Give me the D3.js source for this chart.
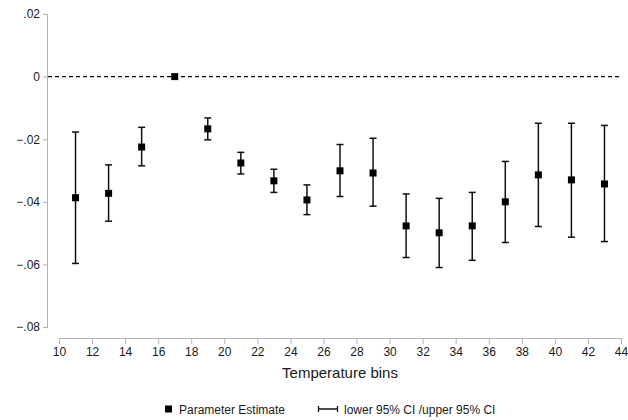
<!DOCTYPE html>
<html lang="en">
<head>
    <meta charset="UTF-8">
    <title>Temperature bins</title>
    <style>
        body { margin: 0; background: #fff; }
        text { font-family: 'Liberation Sans', Arial, sans-serif; fill: #1a1a1a; }
        .axis path, .axis line { stroke: #b4b4b4; }
    </style>
</head>
<body>
<script src="https://d3js.org/d3.v7.min.js"></script>
<script>

    const bins = [11, 13, 15, 17, 19, 21, 23, 25, 27, 29, 31, 33, 35, 37, 39, 41, 43];
    const estimate = [-0.0387, -0.0373, -0.0225, 0, -0.0167, -0.0276, -0.0333, -0.0394, -0.0301, -0.0308,
        -0.0477, -0.0499, -0.0477, -0.0400, -0.0314, -0.0330, -0.0343];
    const lower = [-0.0597, -0.0462, -0.0285, null, -0.0202, -0.0311, -0.0370, -0.0441, -0.0383, -0.0414,
        -0.0578, -0.0610, -0.0587, -0.0530, -0.0479, -0.0513, -0.0527];
    const upper = [-0.0177, -0.0282, -0.0162, null, -0.0132, -0.0242, -0.0296, -0.0346, -0.0217, -0.0197,
        -0.0375, -0.0389, -0.0370, -0.0271, -0.0149, -0.0149, -0.0156];
    const xTicks = d3.range(10, 45, 2);
    const yTicks = [0.02, 0, -0.02, -0.04, -0.06, -0.08];

    const width = 628, height = 420;

    let svg = d3.select('body').append('svg')
        .attr('width', width)
        .attr('height', height);

    let x = d3.scaleLinear().domain([10, 44]).range([59, 621]);
    let y = d3.scaleLinear().domain([-0.08, 0.02]).range([327, 14]);

    function fmt(d) {
        if (d === 0) return '0';
        let s = Math.abs(d).toFixed(2).replace(/^0/, '');
        return (d < 0 ? '\u2212' : '') + s;
    }

    // y axis
    let yAxis = svg.append('g')
        .attr('class', 'axis')
        .attr('transform', 'translate(48,0)')
        .call(d3.axisLeft(y).tickValues(yTicks).tickFormat(fmt).tickSize(5).tickSizeOuter(0).tickPadding(3));
    yAxis.selectAll('text').style('font-size', '12px');

    // x axis
    let xAxis = svg.append('g')
        .attr('class', 'axis')
        .attr('transform', 'translate(0,338)')
        .call(d3.axisBottom(x).tickValues(xTicks).tickSize(6).tickSizeOuter(0).tickPadding(3));
    xAxis.selectAll('text').style('font-size', '12px');
    xAxis.select('.domain').attr('d', 'M' + x(10) + ',0.5H' + x(44));
    yAxis.select('.domain').attr('d', 'M-0.5,' + y(0.02) + 'V' + y(-0.08));

    svg.append('text')
        .attr('x', (x(10) + x(44)) / 2)
        .attr('y', 378)
        .attr('text-anchor', 'middle')
        .style('font-size', '15px')
        .text('Temperature bins');

    // reference line at zero
    svg.append('line')
        .attr('x1', 48).attr('x2', x(44))
        .attr('y1', y(0)).attr('y2', y(0))
        .style('stroke', '#000')
        .style('stroke-width', 1.2)
        .style('stroke-dasharray', '4,3');

    let rows = bins.map(function(b, i) {
        return {bin: b, est: estimate[i], lo: lower[i], hi: upper[i]};
    });
    let ci = rows.filter(function(d) { return d.lo !== null; });

    // confidence intervals
    let bars = svg.append('g').selectAll('g')
        .data(ci)
        .enter().append('g')
        .style('stroke', '#111')
        .style('stroke-width', 1.5);

    bars.append('line')
        .attr('x1', function(d) { return x(d.bin); })
        .attr('x2', function(d) { return x(d.bin); })
        .attr('y1', function(d) { return y(d.lo); })
        .attr('y2', function(d) { return y(d.hi); });
    bars.append('line')
        .attr('x1', function(d) { return x(d.bin) - 3.5; })
        .attr('x2', function(d) { return x(d.bin) + 3.5; })
        .attr('y1', function(d) { return y(d.lo); })
        .attr('y2', function(d) { return y(d.lo); });
    bars.append('line')
        .attr('x1', function(d) { return x(d.bin) - 3.5; })
        .attr('x2', function(d) { return x(d.bin) + 3.5; })
        .attr('y1', function(d) { return y(d.hi); })
        .attr('y2', function(d) { return y(d.hi); });

    // point estimates
    svg.append('g').selectAll('rect')
        .data(rows)
        .enter().append('rect')
        .attr('x', function(d) { return x(d.bin) - 3.5; })
        .attr('y', function(d) { return y(d.est) - 3.5; })
        .attr('width', 7)
        .attr('height', 7)
        .style('fill', '#000');

    // legend
    let legend = svg.append('g').attr('transform', 'translate(0,409)');
    legend.append('rect')
        .attr('x', 165).attr('y', -3.5)
        .attr('width', 7).attr('height', 7)
        .style('fill', '#000');
    legend.append('text')
        .attr('x', 179).attr('y', 4.5)
        .style('font-size', '12px')
        .text('Parameter Estimate');
    legend.append('path')
        .attr('d', 'M318,0H338M318.5,-3V3M337.5,-3V3')
        .style('stroke', '#111')
        .style('stroke-width', 1.3)
        .style('fill', 'none');
    legend.append('text')
        .attr('x', 344).attr('y', 4.5)
        .style('font-size', '12px')
        .text('lower 95% CI /upper 95% CI');

</script>
</body>
</html>
